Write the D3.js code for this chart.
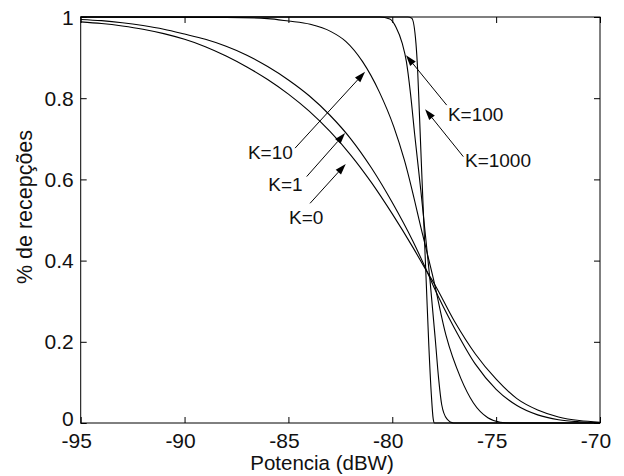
<!DOCTYPE html>
<html><head><meta charset="utf-8">
<script src="https://cdn.jsdelivr.net/npm/d3@7"></script>
<style>
body{margin:0;background:#fff}
text{font-family:"Liberation Sans",Arial,Helvetica,sans-serif;fill:#111}
</style>
</head><body>
<svg id="c" width="624" height="476"></svg>
<script>
// ---- data ----
const xTicks=[-95,-90,-85,-80,-75,-70];
const yTicks=[0,0.2,0.4,0.6,0.8,1];
const xTickLabels=["-95","-90","-85","-80","-75","-70"];
const yTickLabels=["0","0.2","0.4","0.6","0.8","1"];
const xTitle="Potencia (dBW)";
const yTitle="% de recepções";

const curveK0=[[-95,0.988],[-94,0.984],[-93,0.978],[-92,0.97],[-91,0.959],[-90,0.945],[-89,0.927],[-88,0.904],[-87,0.877],[-86,0.846],[-85,0.81],[-84,0.768],[-83,0.718],[-82,0.66],[-81,0.592],[-80,0.515],[-79,0.432],[-78.3,0.37],[-78,0.345],[-77,0.25],[-76,0.17],[-75,0.108],[-74,0.06],[-73,0.032],[-72,0.015],[-71,0.006],[-70,0.002]];
const curveK1=[[-95,0.994],[-94,0.991],[-93,0.986],[-92,0.979],[-91,0.97],[-90,0.958],[-89,0.945],[-88,0.928],[-87,0.906],[-86,0.878],[-85,0.845],[-84,0.806],[-83,0.758],[-82,0.7],[-81,0.628],[-80,0.543],[-79,0.447],[-78.3,0.37],[-78,0.335],[-77,0.233],[-76,0.145],[-75,0.083],[-74,0.043],[-73,0.02],[-72,0.008],[-71,0.003],[-70,0.001]];
const curveK10=[[-95,1],[-88,0.999],[-86,0.996],[-85,0.99],[-83.95,0.982],[-82.95,0.964],[-82.24,0.94],[-81.43,0.89],[-80.62,0.815],[-79.93,0.73],[-79.42,0.648],[-78.52,0.46],[-78.02,0.355],[-77.41,0.215],[-76.7,0.11],[-76.1,0.05],[-75.4,0.013],[-74.8,0.002],[-74.3,0],[-70,0]];
const curveK100=[[-95,1],[-80.6,1],[-80.12,0.995],[-79.82,0.975],[-79.52,0.935],[-79.32,0.89],[-79.12,0.81],[-78.92,0.71],[-78.62,0.57],[-78.42,0.47],[-78.19,0.355],[-77.92,0.2],[-77.77,0.11],[-77.62,0.045],[-77.37,0.01],[-77.05,0],[-70,0]];
const curveK1000=[[-95,1],[-79.25,1],[-79.06,0.997],[-78.86,0.935],[-78.78,0.87],[-78.7,0.77],[-78.6,0.64],[-78.48,0.49],[-78.36,0.34],[-78.24,0.19],[-78.12,0.07],[-78.03,0.01],[-77.97,0],[-70,0]];

// annotations: label text, label start (x,p), arrow tail (x,p), arrow tip (x,p)
const annLabels=["K=10","K=1","K=0","K=100","K=1000"];
const annLabelPos=[[-86.95,0.650],[-85.97,0.572],[-84.97,0.490],[-77.32,0.743],[-76.5,0.630]];
const annTail=[[-84.68,0.677],[-84.12,0.607],[-83.96,0.541],[-77.38,0.783],[-76.58,0.656]];
const annTip=[[-81.31,0.865],[-82.27,0.714],[-82.24,0.638],[-79.34,0.906],[-78.42,0.773]];

// ---- layout ----
const L=80.7,R=600,T=17,B=423;
const svg=d3.select("#c");
const x=d3.scaleLinear().domain([-95,-70]).range([L,R]);
const y=d3.scaleLinear().domain([0,1]).range([B,T]);

const g=svg.append("g");
// curves
const line=d3.line().x(d=>x(d[0])).y(d=>y(d[1])).curve(d3.curveMonotoneX);
[curveK0,curveK1,curveK10,curveK100,curveK1000].forEach(c=>{
  g.append("path").attr("d",line(c)).attr("fill","none").attr("stroke","#000").attr("stroke-width",1.1);
});

// axes with inward ticks, on all four sides
const tl=6;
const axB=d3.axisBottom(x).tickValues(xTicks).tickSizeInner(-tl).tickSizeOuter(0).tickFormat("");
const axT=d3.axisTop(x).tickValues(xTicks).tickSizeInner(-tl).tickSizeOuter(0).tickFormat("");
const axLf=d3.axisLeft(y).tickValues(yTicks).tickSizeInner(-tl).tickSizeOuter(0).tickFormat("");
const axRt=d3.axisRight(y).tickValues(yTicks).tickSizeInner(-tl).tickSizeOuter(0).tickFormat("");
function style(sel){sel.select(".domain").remove();sel.selectAll("line").attr("stroke","#000");}
g.append("g").attr("transform",`translate(0,${B})`).call(axB).call(style);
g.append("g").attr("transform",`translate(0,${T})`).call(axT).call(style);
g.append("g").attr("transform",`translate(${L},0)`).call(axLf).call(style);
g.append("g").attr("transform",`translate(${R},0)`).call(axRt).call(style);
g.append("rect").attr("x",L).attr("y",T).attr("width",R-L).attr("height",B-T)
 .attr("fill","none").attr("stroke","#000").attr("stroke-width",1);

// tick labels
g.selectAll(".xl").data(xTicks).enter().append("text")
 .attr("x",(d)=>x(d)-4).attr("y",448).attr("text-anchor","middle")
 .attr("font-size",21).text((d,i)=>xTickLabels[i]);
g.selectAll(".yl").data(yTicks).enter().append("text")
 .attr("x",L-7).attr("y",d=>y(d)-(d===0?5:0)).attr("dy","0.36em").attr("text-anchor","end")
 .attr("font-size",21).text((d,i)=>yTickLabels[i]);

// titles
g.append("text").attr("x",322).attr("y",470).attr("text-anchor","middle").attr("font-size",20.5).text(xTitle);
g.append("text").attr("transform","translate(32,207) rotate(-90)").attr("text-anchor","middle").attr("font-size",21.5).text(yTitle);

// annotations
annLabels.forEach((t,i)=>{
  const [x1,y1]=[x(annTail[i][0]),y(annTail[i][1])];
  const [x2,y2]=[x(annTip[i][0]),y(annTip[i][1])];
  const ang=Math.atan2(y2-y1,x2-x1);
  const hl=11,hw=3.6;
  const bx=x2-hl*Math.cos(ang),by=y2-hl*Math.sin(ang);
  g.append("line").attr("x1",x1).attr("y1",y1).attr("x2",bx).attr("y2",by).attr("stroke","#000").attr("stroke-width",1);
  const p=[[x2,y2],[bx+hw*Math.sin(ang),by-hw*Math.cos(ang)],[bx-hw*Math.sin(ang),by+hw*Math.cos(ang)]];
  g.append("path").attr("d","M"+p.map(q=>q.join(",")).join("L")+"Z").attr("fill","#000");
  g.append("text").attr("x",x(annLabelPos[i][0])).attr("y",y(annLabelPos[i][1]))
   .attr("font-size",19).text(t);
});
</script>
</body></html>
